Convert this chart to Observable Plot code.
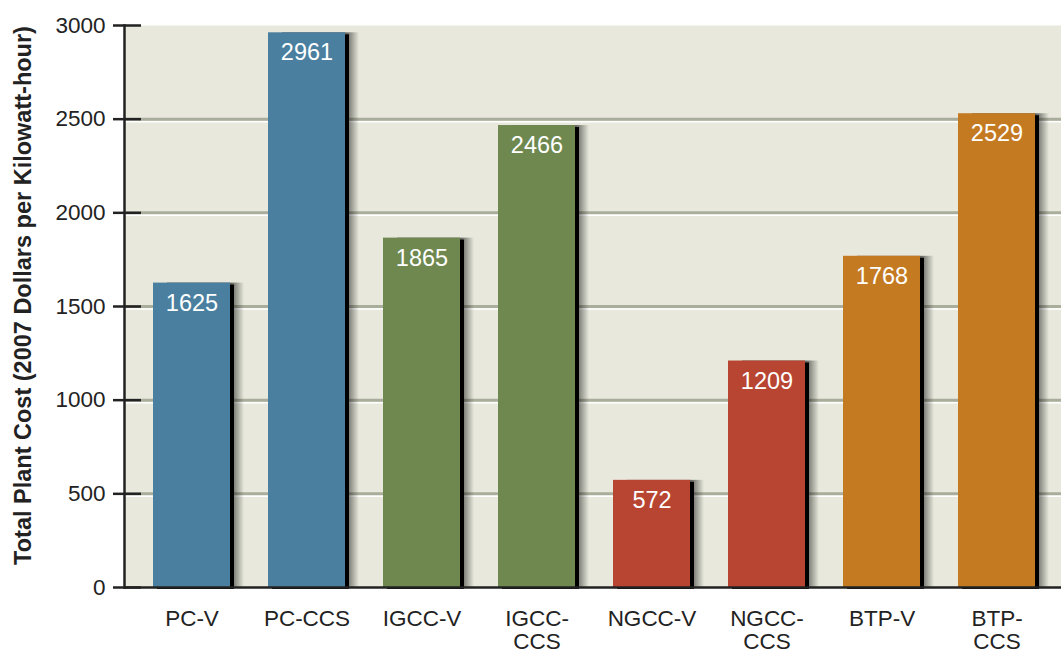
<!DOCTYPE html>
<html>
<head>
<meta charset="utf-8">
<script src="https://cdn.jsdelivr.net/npm/d3@7"></script>
<script src="https://cdn.jsdelivr.net/npm/@observablehq/plot@0.6"></script>
<style>
  html, body { margin: 0; padding: 0; background: #ffffff; }
  #chart { width: 1061px; height: 654px; overflow: hidden; }
</style>
</head>
<body>
<div id="chart"></div>
<script>
const categories = ["PC-V", "PC-CCS", "IGCC-V", "IGCC-CCS", "NGCC-V", "NGCC-CCS", "BTP-V", "BTP-CCS"];
const tickLabels = ["PC-V", "PC-CCS", "IGCC-V", "IGCC-\nCCS", "NGCC-V", "NGCC-\nCCS", "BTP-V", "BTP-\nCCS"];
const values = [1625, 2961, 1865, 2466, 572, 1209, 1768, 2529];
const groups = ["PC", "PC", "IGCC", "IGCC", "NGCC", "NGCC", "BTP", "BTP"];
const groupNames = ["PC", "IGCC", "NGCC", "BTP"];
const groupColors = ["#4a7fa0", "#6e8850", "#b84532", "#c47a21"];
const yTicks = [0, 500, 1000, 1500, 2000, 2500, 3000];
const gridValues = [500, 1000, 1500, 2000, 2500];
const yTitle = "Total Plant Cost (2007 Dollars per Kilowatt-hour)";

const data = categories.map((c, i) => ({category: c, value: values[i], group: groups[i]}));

const chart = Plot.plot({
  width: 1061,
  height: 654,
  marginLeft: 124,
  marginRight: 0,
  marginTop: 25,
  marginBottom: 67,
  style: {fontFamily: "'Liberation Sans', Arial, sans-serif", background: "#ffffff", color: "#222"},
  x: {domain: categories, range: [134, 1055], paddingInner: 0.33, paddingOuter: 0.165},
  y: {domain: [0, 3000]},
  color: {domain: groupNames, range: groupColors},
  marks: [
    Plot.frame({fill: "#e8e9dc", stroke: "none"}),
    Plot.ruleY(gridValues, {stroke: "#a9ad9b", strokeWidth: 3}),
    Plot.ruleY(gridValues, {stroke: "#ffffff", strokeWidth: 1.5, dy: 2.5}),
    Plot.barY(data, {x: "category", y: "value", fill: "url(#shadowGrad)", dx: 14}),
    Plot.barY(data, {x: "category", y: "value", fill: "#000000", dx: 4, dy: 2}),
    Plot.barY(data, {x: "category", y: "value", fill: "group"}),
    Plot.text(data, {x: "category", y: "value", text: d => String(d.value), dy: 20, fill: "#ffffff", fontSize: 23.5}),
    Plot.ruleY([0], {stroke: "#222", strokeWidth: 2.5}),
    Plot.frame({anchor: "left", stroke: "#222", strokeWidth: 2.5}),
    Plot.axisY({ticks: yTicks, tickSize: 28, dx: 17, tickFormat: () => "", stroke: "#222", strokeWidth: 2.5, label: null}),
    Plot.axisY({ticks: yTicks, tickSize: 0, tickPadding: 19, fontSize: 22.5, fill: "#222", label: null,
      tickFormat: d => String(d)}),
    Plot.axisX({tickSize: 0, tickPadding: 22, fontSize: 22.5, lineHeight: 1.02, fill: "#222", label: null,
      tickFormat: d => tickLabels[categories.indexOf(d)]}),
    Plot.text([yTitle], {frameAnchor: "left", rotate: -90, dx: -101, dy: -11, text: d => d,
      textAnchor: "middle", fontWeight: "bold", fontSize: 23.5, fill: "#222"})
  ]
});

d3.select(chart).insert("defs", ":first-child").html(
  '<linearGradient id="shadowGrad" x1="0" x2="1" y1="0" y2="0">' +
  '<stop offset="0.84" stop-color="#000" stop-opacity="0.55"/>' +
  '<stop offset="1" stop-color="#000" stop-opacity="0"/>' +
  '</linearGradient>'
);

document.getElementById("chart").appendChild(chart);
</script>
</body>
</html>
